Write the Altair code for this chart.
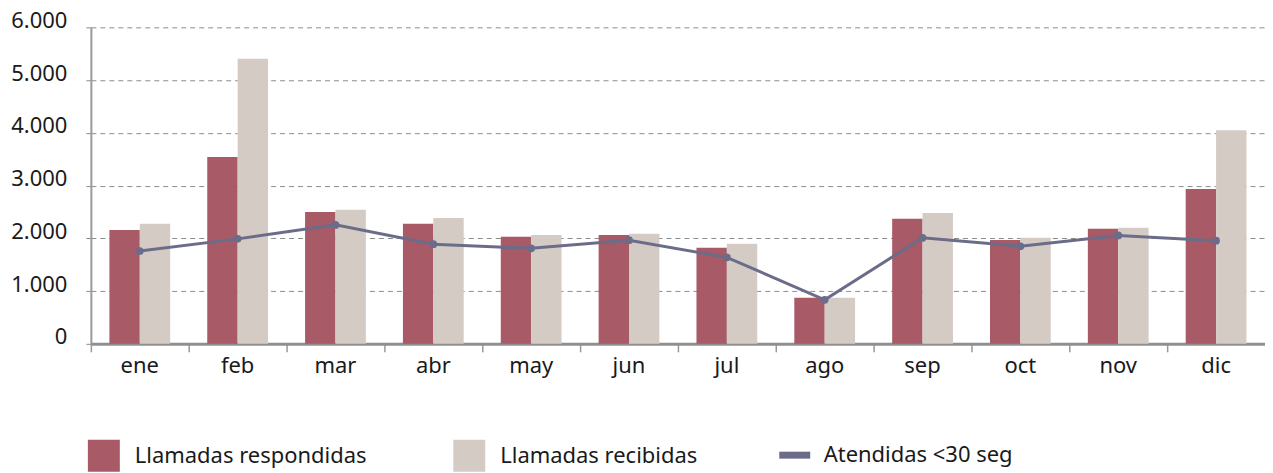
import altair as alt
import pandas as pd

months = ["ene", "feb", "mar", "abr", "may", "jun", "jul", "ago", "sep", "oct", "nov", "dic"]
respondidas = [2160, 3540, 2500, 2275, 2030, 2065, 1820, 875, 2370, 1970, 2180, 2935]
recibidas = [2275, 5405, 2540, 2385, 2065, 2085, 1895, 875, 2480, 2010, 2200, 4050]
atendidas = [1760, 1990, 2255, 1890, 1810, 1965, 1640, 835, 2010, 1850, 2055, 1955]

S_RESP = "Llamadas respondidas"
S_REC = "Llamadas recibidas"
S_AT = "Atendidas <30 seg"

RED = "#A85A66"
BEIGE = "#D5CBC5"
LINE = "#6B6C8A"
FONT = "Noto Sans"
TXT = "#1a1a1a"

bars_df = pd.DataFrame(
    [{"mes": m, "serie": S_RESP, "valor": v} for m, v in zip(months, respondidas)]
    + [{"mes": m, "serie": S_REC, "valor": v} for m, v in zip(months, recibidas)]
)
line_df = pd.DataFrame({"mes": months, "serie": S_AT, "valor": atendidas})

x_enc = alt.X(
    "mes:N",
    sort=months,
    title=None,
    scale=alt.Scale(paddingInner=0, paddingOuter=0),
    axis=alt.Axis(
        bandPosition=0,
        labelAngle=0,
        labelFont=FONT,
        labelFontSize=22,
        labelColor=TXT,
        labelPadding=4,
        tickSize=8,
        tickColor="#999999",
        tickWidth=1.5,
        domainColor="#8f8f8f",
        domainWidth=3,
        grid=False,
    ),
)

y_enc = alt.Y(
    "valor:Q",
    title=None,
    scale=alt.Scale(domain=[0, 6000], nice=False),
    axis=alt.Axis(
        values=[0, 1000, 2000, 3000, 4000, 5000, 6000],
        labelExpr="replace(format(datum.value, ','), ',', '.')",
        labelFont=FONT,
        labelFontSize=22,
        labelColor=TXT,
        labelBaseline="alphabetic",
        labelPadding=16,
        tickSize=8,
        tickColor="#8c8c8c",
        tickDash=[5, 4],
        tickWidth=1,
        grid=True,
        gridColor="#8c8c8c",
        gridDash=[5, 4],
        gridWidth=1,
        domainColor="#999999",
        domainWidth=2,
    ),
)

legend_common = dict(
    title=None,
    orient="none",
    direction="horizontal",
    labelFont=FONT,
    labelFontSize=22,
    labelColor=TXT,
    labelLimit=500,
    padding=0,
)

bars = alt.Chart(bars_df).mark_bar().encode(
    x=x_enc,
    xOffset=alt.XOffset("serie:N", sort=[S_RESP, S_REC],
                        scale=alt.Scale(paddingInner=0, paddingOuter=0.61)),
    y=y_enc,
    color=alt.Color(
        "serie:N",
        scale=alt.Scale(domain=[S_RESP, S_REC], range=[RED, BEIGE]),
        legend=alt.Legend(
            legendX=-3,
            legendY=413,
            symbolType="square",
            symbolSize=1024,
            symbolStrokeWidth=0,
            labelOffset=15,
            columnPadding=86,
            **legend_common,
        ),
    ),
)

line = alt.Chart(line_df).mark_line(strokeWidth=3).encode(
    x=alt.X("mes:N", sort=months),
    y=alt.Y("valor:Q"),
    stroke=alt.Stroke(
        "serie:N",
        scale=alt.Scale(domain=[S_AT], range=[LINE]),
        legend=alt.Legend(
            legendX=686,
            legendY=409.5,
            symbolType="stroke",
            symbolSize=961,
            symbolStrokeWidth=7,
            labelOffset=10,
            **legend_common,
        ),
    ),
)

points = alt.Chart(line_df).mark_point(filled=True, size=60, opacity=1).encode(
    x=alt.X("mes:N", sort=months),
    y=alt.Y("valor:Q"),
    color=alt.value(LINE),
)

chart = (
    alt.layer(bars, line, points)
    .resolve_scale(color="independent")
    .properties(width=1176, height=317, padding={"left": 2, "top": 1, "right": 0, "bottom": 0})
    .configure_view(stroke=None)
)

chart.save("out.html", embed_options={"renderer": "svg", "actions": False})
